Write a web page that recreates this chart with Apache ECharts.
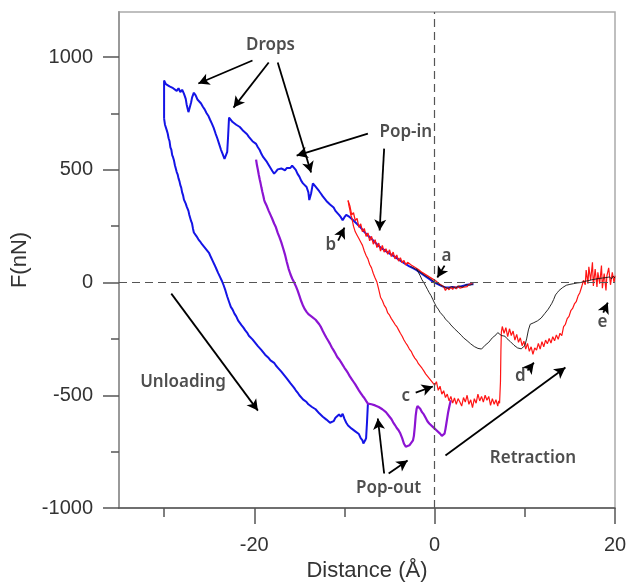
<!DOCTYPE html>
<html>
<head>
<meta charset="utf-8">
<script src="https://cdn.jsdelivr.net/npm/echarts@6/dist/echarts.min.js"></script>
<style>
html,body{margin:0;padding:0;background:#fff;}
#chart{width:628px;height:584px;}
</style>
</head>
<body>
<div id="chart"></div>
<script>
// ---- axis ticks ----
const xMajorTicks = [-20, 0, 20];
const xMinorTicks = [-30, -10, 10];
const yMajorTicks = [-1000, -500, 0, 500, 1000];
const yMinorTicks = [-750, -250, 250, 750];

// ---- series: [distance (Å), force (nN)] ----
const blueLoading = [
  [-30.0,727],[-30.0,896],[-29.8,880],[-29.6,888],[-29.4,870],[-29.2,878],[-29.0,862],[-28.8,870],
  [-28.6,850],[-28.4,862],[-28.2,845],[-28.0,855],[-27.8,838],[-27.6,815],[-27.5,790],[-27.3,756],
  [-27.2,770],[-27.0,800],[-26.9,820],[-26.7,842],[-26.5,830],[-26.3,812],[-26.1,805],[-25.9,794],
  [-25.7,780],[-25.5,768],[-25.3,752],[-25.1,740],[-24.9,722],[-24.7,705],[-24.5,686],[-24.3,662],
  [-24.1,640],[-23.9,615],[-23.7,590],[-23.5,570],[-23.3,548],[-23.1,541],[-23.0,580],[-22.9,650],
  [-22.8,732],[-22.6,722],[-22.4,712],[-22.2,718],[-22.0,700],[-21.8,706],[-21.6,690],[-21.4,685],
  [-21.2,672],[-21.0,668],[-20.8,658],[-20.6,646],[-20.4,640],[-20.2,627],[-20.0,625],[-19.8,615],
  [-19.6,600],[-19.4,588],[-19.2,570],[-19.0,556],[-18.9,549],[-18.6,535],[-18.3,515],[-18.0,495],
  [-17.8,483],[-17.6,492],[-17.4,502],[-17.2,494],[-17.0,506],[-16.8,510],[-16.6,498],[-16.4,508],
  [-16.2,515],[-16.0,508],[-15.8,519],[-15.6,512],[-15.4,500],[-15.2,482],[-15.0,470],[-14.8,452],
  [-14.6,440],[-14.4,432],[-14.2,424],[-14.0,400],[-13.9,366],[-13.7,395],[-13.5,440],[-13.4,445],
  [-13.2,425],[-13.0,415],[-12.8,405],[-12.6,394],[-12.4,382],[-12.2,374],[-12.0,362],[-11.8,355],
  [-11.6,346],[-11.4,340],[-11.2,333],[-11.0,318],[-10.8,310],[-10.6,300],[-10.4,290],[-10.2,276],
  [-10.0,290],[-9.8,300],[-9.6,305],[-9.4,290],[-9.2,282],[-9.0,275],[-8.8,268],[-8.6,260],
  [-8.4,252],[-8.2,244],[-8.0,236],[-7.8,225],[-7.6,218],[-7.4,208],[-7.2,200],[-7.0,195],
  [-6.8,186],[-6.6,178],[-6.4,170],[-6.2,162],[-6.0,155],[-5.8,150],[-5.6,145],[-5.4,140],
  [-5.2,134],[-5.0,130],[-4.8,124],[-4.6,120],[-4.4,114],[-4.2,108],[-4.0,103],[-3.8,98],
  [-3.6,92],[-3.4,88],[-3.2,82],[-3.0,78],[-2.8,72],[-2.6,68],[-2.4,64],[-2.2,60],[-2.0,55],
  [-1.8,50],[-1.6,44],[-1.4,38],[-1.2,33],[-1.0,27],[-0.8,22],[-0.6,16],[-0.4,10],[-0.2,5],
  [0.0,0],[0.2,-4],[0.4,-8],[0.6,-12],[0.8,-16],[1.0,-20],[1.2,-22],[1.4,-25],[1.6,-22],
  [1.8,-24],[2.0,-20],[2.2,-23],[2.4,-22],[2.6,-25],[2.8,-18],[3.0,-15],[3.2,-14],[3.4,-12],
  [3.6,-10],[3.8,-12],[4.0,-8],[4.3,-8]
];
const blueUnloading = [
  [-30.0,727],[-29.9,700],[-29.8,705],[-29.7,675],[-29.6,661],[-29.5,640],[-29.4,628],[-29.3,600],
  [-29.2,590],[-29.1,565],[-29.0,555],[-28.9,541],[-28.8,520],[-28.7,512],[-28.6,490],[-28.5,480],
  [-28.4,462],[-28.3,450],[-28.2,432],[-28.1,421],[-28.0,400],[-27.9,388],[-27.8,368],[-27.7,360],
  [-27.6,350],[-27.5,338],[-27.4,333],[-27.3,318],[-27.2,300],[-27.1,292],[-27.0,272],[-26.9,262],
  [-26.8,240],[-26.7,222],[-26.6,215],[-26.4,205],[-26.2,192],[-26.0,182],[-25.8,170],[-25.6,165],
  [-25.4,150],[-25.2,148],[-25.0,130],[-24.8,112],[-24.6,95],[-24.4,78],[-24.2,60],[-24.0,42],
  [-23.8,25],[-23.6,8],[-23.4,-12],[-23.2,-35],[-23.0,-62],[-22.8,-85],[-22.6,-108],[-22.4,-120],
  [-22.2,-138],[-22.0,-150],[-21.8,-168],[-21.6,-175],[-21.4,-190],[-21.2,-200],[-21.0,-212],
  [-20.8,-222],[-20.6,-236],[-20.4,-244],[-20.2,-252],[-20.0,-262],[-19.8,-270],[-19.6,-282],
  [-19.4,-290],[-19.2,-300],[-19.0,-308],[-18.8,-320],[-18.6,-328],[-18.4,-335],[-18.2,-345],
  [-18.0,-352],[-17.8,-356],[-17.6,-368],[-17.4,-377],[-17.2,-385],[-17.0,-395],[-16.8,-405],
  [-16.6,-412],[-16.4,-425],[-16.2,-432],[-16.0,-446],[-15.8,-456],[-15.6,-466],[-15.4,-478],
  [-15.2,-488],[-15.0,-500],[-14.8,-508],[-14.6,-518],[-14.4,-525],[-14.2,-530],[-14.0,-540],
  [-13.8,-545],[-13.6,-552],[-13.4,-558],[-13.2,-562],[-13.0,-570],[-12.8,-580],[-12.6,-588],
  [-12.4,-595],[-12.2,-602],[-12.0,-608],[-11.8,-615],[-11.6,-622],[-11.4,-628],[-11.2,-615],
  [-11.0,-600],[-10.8,-592],[-10.6,-585],[-10.4,-595],[-10.2,-582],[-10.0,-605],[-9.8,-622],
  [-9.6,-634],[-9.4,-640],[-9.2,-648],[-9.0,-652],[-8.8,-660],[-8.6,-662],[-8.4,-672],[-8.2,-690],
  [-8.0,-700],[-7.9,-714],[-7.7,-700],[-7.6,-690],[-7.5,-620],[-7.4,-537]
];
const purpleCurve = [
  [-19.8,545],[-19.7,520],[-19.6,500],[-19.5,478],[-19.4,458],[-19.3,440],[-19.2,420],[-19.1,402],
  [-19.0,385],[-18.9,366],[-18.8,355],[-18.7,348],[-18.6,338],[-18.5,332],[-18.4,318],[-18.3,310],
  [-18.2,300],[-18.1,292],[-18.0,282],[-17.8,262],[-17.6,245],[-17.4,220],[-17.2,200],[-17.0,178],
  [-16.8,152],[-16.6,125],[-16.4,92],[-16.2,62],[-16.0,38],[-15.8,18],[-15.6,2],[-15.4,-15],
  [-15.2,-35],[-15.0,-58],[-14.8,-82],[-14.6,-102],[-14.4,-118],[-14.2,-130],[-14.0,-140],
  [-13.8,-148],[-13.6,-152],[-13.4,-158],[-13.2,-165],[-13.0,-172],[-12.8,-185],[-12.6,-198],
  [-12.4,-215],[-12.2,-230],[-12.0,-245],[-11.8,-258],[-11.6,-272],[-11.4,-288],[-11.2,-301],
  [-11.0,-315],[-10.8,-330],[-10.6,-340],[-10.4,-352],[-10.2,-365],[-10.0,-378],[-9.8,-390],
  [-9.6,-402],[-9.4,-416],[-9.2,-428],[-9.0,-440],[-8.8,-452],[-8.6,-465],[-8.4,-478],[-8.2,-490],
  [-8.0,-502],[-7.8,-512],[-7.6,-525],[-7.4,-537],[-7.2,-532],[-7.0,-540],[-6.8,-535],[-6.6,-545],
  [-6.4,-540],[-6.2,-552],[-6.0,-556],[-5.8,-562],[-5.6,-570],[-5.4,-575],[-5.2,-582],[-5.0,-595],
  [-4.8,-605],[-4.6,-620],[-4.4,-632],[-4.2,-645],[-4.0,-655],[-3.8,-670],[-3.6,-690],[-3.4,-715],
  [-3.2,-728],[-3.0,-730],[-2.8,-722],[-2.6,-715],[-2.4,-700],[-2.3,-680],[-2.2,-640],[-2.1,-590],
  [-2.0,-560],[-1.9,-548],[-1.8,-545],[-1.6,-560],[-1.4,-575],[-1.2,-585],[-1.0,-600],[-0.8,-615],
  [-0.6,-625],[-0.4,-632],[-0.2,-640],[0.0,-645],[0.2,-655],[0.4,-662],[0.6,-670],[0.8,-680],
  [0.9,-688],[1.0,-685],[1.1,-670],[1.2,-650],[1.3,-625],[1.4,-600],[1.5,-575],[1.6,-555],
  [1.7,-538],[1.8,-522]
];
const redApproach = [
  [4.2,-5],[4.0,-12],[3.8,-8],[3.6,-18],[3.4,-10],[3.2,-20],[3.0,-14],[2.8,-25],[2.6,-15],
  [2.4,-28],[2.2,-18],[2.0,-30],[1.8,-20],[1.6,-32],[1.4,-22],[1.2,-35],[1.0,-18],[0.8,-25],
  [0.6,-8],[0.4,-12],[0.2,5],[0.0,0],[-0.2,15],[-0.4,8],[-0.6,25],[-0.8,18],[-1.0,35],[-1.2,28],
  [-1.4,45],[-1.6,38],[-1.8,58],[-2.0,50],[-2.2,68],[-2.4,60],[-2.6,78],[-2.8,70],[-3.0,90],
  [-3.2,78],[-3.4,98],[-3.6,88],[-3.8,110],[-4.0,95],[-4.2,122],[-4.4,105],[-4.6,135],[-4.8,115],
  [-5.0,145],[-5.2,125],[-5.4,150],[-5.6,135],[-5.8,165],[-6.0,140],[-6.2,175],[-6.4,155],
  [-6.6,190],[-6.8,170],[-7.0,205],[-7.2,185],[-7.4,220],[-7.6,205],[-7.8,240],[-8.0,225],
  [-8.2,260],[-8.4,245],[-8.6,285],[-8.8,275],[-9.0,310],[-9.2,300],[-9.4,340],[-9.6,364]
];
const redRetraction = [
  [-9.6,364],[-9.5,340],[-9.4,322],[-9.3,300],[-9.2,290],[-9.1,270],[-9.0,250],[-8.9,245],
  [-8.8,225],[-8.6,210],[-8.4,195],[-8.2,180],[-8.0,165],[-7.9,158],[-7.8,140],[-7.6,120],
  [-7.4,105],[-7.2,80],[-7.0,65],[-6.8,40],[-6.6,20],[-6.4,2],[-6.2,-30],[-6.0,-65],[-5.8,-80],
  [-5.6,-100],[-5.4,-112],[-5.2,-135],[-5.0,-145],[-4.8,-160],[-4.6,-172],[-4.4,-185],[-4.2,-195],
  [-4.0,-210],[-3.8,-225],[-3.6,-238],[-3.4,-255],[-3.2,-268],[-3.0,-280],[-2.8,-295],[-2.6,-305],
  [-2.4,-322],[-2.2,-335],[-2.0,-345],[-1.8,-360],[-1.6,-370],[-1.4,-380],[-1.2,-392],[-1.0,-405],
  [-0.8,-415],[-0.6,-425],[-0.4,-432],[-0.2,-445],[0.0,-455],[0.2,-440],[0.4,-478],[0.6,-460],
  [0.8,-495],[1.0,-480],[1.2,-510],[1.4,-495],[1.6,-525],[1.8,-505],[2.0,-535],[2.2,-512],
  [2.4,-540],[2.6,-515],[2.8,-530],[3.0,-548],[3.2,-510],[3.4,-530],[3.6,-500],[3.8,-540],
  [4.0,-520],[4.2,-555],[4.4,-515],[4.6,-535],[4.8,-495],[5.0,-525],[5.2,-505],[5.4,-530],
  [5.6,-500],[5.8,-522],[6.0,-505],[6.2,-545],[6.4,-515],[6.6,-540],[6.8,-520],[7.0,-548],
  [7.1,-525],[7.2,-535],[7.3,-440],[7.35,-300],[7.4,-220],[7.5,-195],[7.7,-225],[7.9,-200],
  [8.1,-240],[8.3,-205],[8.5,-235],[8.7,-215],[8.9,-255],[9.1,-230],[9.3,-265],[9.5,-245],
  [9.7,-280],[9.9,-260],[10.1,-295],[10.3,-270],[10.5,-305],[10.7,-285],[10.9,-318],[11.1,-290],
  [11.3,-300],[11.5,-270],[11.7,-295],[11.9,-262],[12.1,-285],[12.3,-255],[12.5,-272],[12.7,-248],
  [12.9,-268],[13.1,-240],[13.3,-258],[13.5,-232],[13.7,-252],[13.9,-225],[14.1,-235],[14.3,-195],
  [14.5,-185],[14.7,-160],[14.9,-150],[15.1,-125],[15.3,-115],[15.5,-95],[15.7,-85],[15.9,-60],
  [16.1,-45],[16.3,-20],[16.5,10],[16.7,-10],[16.8,55],[17.0,-5],[17.1,70],[17.3,10],[17.5,90],
  [17.6,-15],[17.8,60],[18.0,-20],[18.1,45],[18.3,-5],[18.5,75],[18.6,-25],[18.8,40],[19.0,-35],
  [19.1,30],[19.3,65],[19.5,-10],[19.7,45],[19.9,0],[20.0,30]
];
const blackApproach = [
  [4.3,-6],[3.9,-12],[3.5,-9],[3.1,-20],[2.7,-15],[2.3,-24],[1.9,-18],[1.5,-26],[1.1,-20],
  [0.7,-12],[0.3,-4],[0.0,2],[-0.4,14],[-0.8,24],[-1.2,34],[-1.6,46],[-2.0,56],[-2.4,66],[-2.7,72]
];
const blackRetraction = [
  [-2.0,62],[-1.8,45],[-1.6,30],[-1.4,12],[-1.2,0],[-1.0,-15],[-0.8,-30],[-0.6,-45],[-0.4,-58],
  [-0.2,-75],[0.0,-92],[0.2,-108],[0.4,-118],[0.6,-132],[0.8,-140],[1.0,-150],[1.2,-162],
  [1.4,-170],[1.6,-178],[1.8,-188],[2.0,-195],[2.2,-205],[2.4,-210],[2.6,-220],[2.8,-228],
  [3.0,-236],[3.2,-245],[3.4,-250],[3.6,-258],[3.8,-262],[4.0,-272],[4.2,-276],[4.4,-284],
  [4.6,-280],[4.8,-292],[5.0,-285],[5.2,-295],[5.4,-288],[5.6,-278],[5.8,-282],[6.0,-265],
  [6.2,-258],[6.4,-245],[6.6,-240],[6.8,-232],[7.0,-222],[7.2,-230],[7.4,-235],[7.6,-240],
  [7.8,-238],[8.0,-248],[8.2,-255],[8.4,-262],[8.6,-270],[8.8,-278],[9.0,-284],[9.2,-290],
  [9.4,-286],[9.6,-294],[9.8,-288],[10.0,-280],[10.2,-250],[10.4,-210],[10.6,-185],[10.8,-188],
  [11.0,-178],[11.2,-180],[11.4,-170],[11.6,-172],[11.8,-158],[12.0,-155],[12.2,-138],[12.4,-130],
  [12.6,-118],[12.8,-105],[13.0,-92],[13.2,-75],[13.4,-55],[13.6,-45],[13.8,-35],[14.0,-28],
  [14.2,-22],[14.4,-18],[14.6,-12],[14.8,-15],[15.0,-8],[15.2,-12],[15.4,-5],[15.6,-10],[15.8,-2],
  [16.0,-6],[16.2,0],[16.4,-4],[16.6,5],[16.8,2],[17.0,8],[17.2,4],[17.4,12],[17.6,6],[17.8,15],
  [18.0,8],[18.2,18],[18.4,10],[18.6,20],[18.8,12],[19.0,22],[19.2,14],[19.4,25],[19.6,16],
  [19.8,28],[20.0,20]
];

// ---- annotations (data coordinates) ----
const noteTexts = [
  {name:'Drops', value:[-18.2,1051]},
  {name:'Pop-in', value:[-3.2,665]},
  {name:'b', value:[-11.5,164]},
  {name:'a', value:[1.3,115]},
  {name:'c', value:[-3.2,-506]},
  {name:'d', value:[9.5,-417]},
  {name:'e', value:[18.6,-177]},
  {name:'Unloading', value:[-27.9,-443]},
  {name:'Pop-out', value:[-5.1,-914]},
  {name:'Retraction', value:[10.9,-781]}
];
const arrowFrom = [
  [-20.2,985],[-18.4,976],[-17.4,976],[-7.4,661],[-5.6,594],[-10.7,186],[1.1,75],[-2.1,-488],
  [10.3,-390],[18.7,-133],[-29.2,-49],[-5.6,-847],[-5.1,-847],[1.2,-767]
];
const arrowTo = [
  [-26.2,883],[-22.3,776],[-13.7,488],[-15.3,563],[-6.1,231],[-10.0,244],[0.3,22],[-0.2,-461],
  [11.0,-355],[19.2,-89],[-19.6,-568],[-6.3,-603],[-3.0,-789],[14.5,-377]
];

const chart = echarts.init(document.getElementById('chart'));
const tickFont = {fontFamily:'Liberation Sans, Arial, sans-serif', fontSize:20, color:'#333'};
const plain = v => String(v);

function lineSeries(data, color, width) {
  return {type:'line', data:data, showSymbol:false, symbol:'none', animation:false, silent:true,
    lineStyle:{color:color, width:width}, z:2};
}

chart.setOption({
  animation:false,
  backgroundColor:'#fff',
  grid:{left:119, right:13, top:12, bottom:76, containLabel:false, outerBoundsMode:'none',
    show:true, borderColor:'#aaa', borderWidth:1.5},
  xAxis:[
    {type:'value', min:-35, max:20, position:'bottom',
     axisLine:{show:true, onZero:false, lineStyle:{color:'#555', width:1.5}},
     axisTick:{show:true, length:16, customValues:xMajorTicks, lineStyle:{color:'#555', width:1.5}},
     axisLabel:{customValues:xMajorTicks, margin:27, formatter:plain, ...tickFont},
     splitLine:{show:false},
     name:'Distance (Å)', nameLocation:'middle', nameGap:47,
     nameTextStyle:{fontFamily:'Liberation Sans, Arial, sans-serif', fontSize:22, color:'#333'}},
    {type:'value', min:-35, max:20, position:'bottom',
     axisLine:{show:false, onZero:false},
     axisTick:{show:true, length:9, customValues:xMinorTicks, lineStyle:{color:'#555', width:1.5}},
     axisLabel:{show:false}, splitLine:{show:false}}
  ],
  yAxis:[
    {type:'value', min:-1000, max:1200, position:'left',
     axisLine:{show:true, onZero:false, lineStyle:{color:'#999', width:2}},
     axisTick:{show:true, length:16, customValues:yMajorTicks, lineStyle:{color:'#555', width:1.5}},
     axisLabel:{customValues:yMajorTicks, margin:26, formatter:plain, ...tickFont},
     splitLine:{show:false},
     name:'F(nN)', nameLocation:'middle', nameGap:79,
     nameTextStyle:{fontFamily:'Liberation Sans, Arial, sans-serif', fontSize:22, color:'#333'}},
    {type:'value', min:-1000, max:1200, position:'left',
     axisLine:{show:false, onZero:false},
     axisTick:{show:true, length:8, customValues:yMinorTicks, lineStyle:{color:'#555', width:1.5}},
     axisLabel:{show:false}, splitLine:{show:false}}
  ],
  series:[
    {type:'line', data:[], silent:true, markLine:{silent:true, symbol:['none','none'], animation:false,
      label:{show:false},
      lineStyle:{color:'#555', width:1.2, type:[8,5]},
      data:[{yAxis:0},{xAxis:0}]}},
    lineSeries(blueLoading, '#1414e6', 2),
    lineSeries(blueUnloading, '#1414e6', 2),
    lineSeries(purpleCurve, '#8c14d2', 2.2),
    lineSeries(redApproach, '#ff1414', 1.3),
    lineSeries(redRetraction, '#ff1414', 1.2),
    lineSeries(blackApproach, '#222', 0.9),
    lineSeries(blackRetraction, '#111', 0.9),
    {type:'line', data:[], silent:true, z:5, markLine:{silent:true, animation:false,
      symbol:['none','arrow'], symbolSize:[9,11],
      label:{show:false},
      lineStyle:{color:'#000', width:1.8, type:'solid'},
      data: arrowFrom.map((f,i)=>[{coord:f},{coord:arrowTo[i]}])}},
    {type:'scatter', data:noteTexts, symbolSize:1, silent:true, z:6,
     itemStyle:{color:'rgba(0,0,0,0)'},
     label:{show:true, position:'inside', formatter:'{b}',
       fontFamily:'Noto Sans, sans-serif', fontSize:17, fontWeight:600, color:'#222'}}
  ]
});
</script>
</body>
</html>
